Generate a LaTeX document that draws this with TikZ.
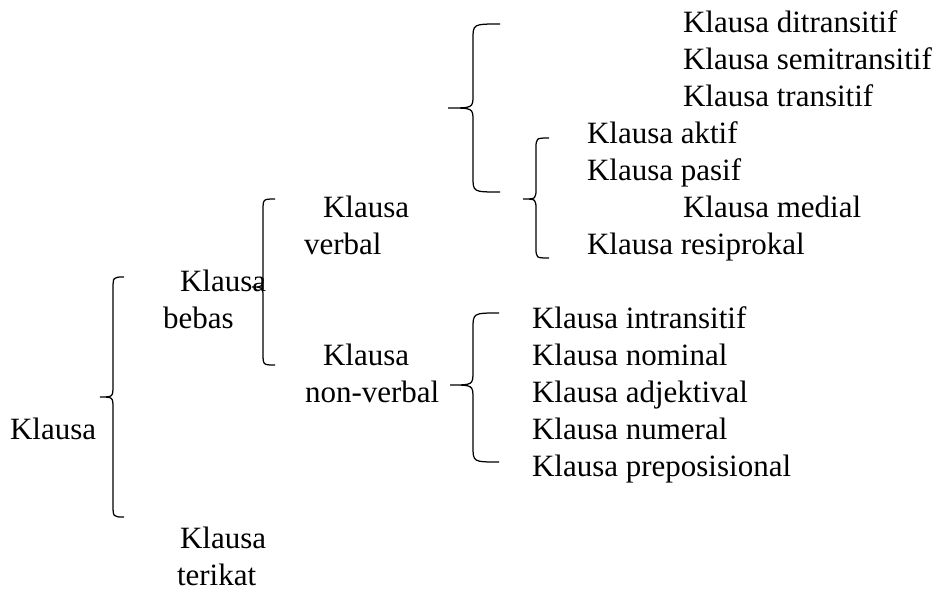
\documentclass[tikz,border=0pt]{standalone}
\usepackage{fontspec}
\setmainfont{Liberation Serif}
\newfontfamily\tnrfont{Liberation Serif}
\newcommand\mybrace[8]{%
  % #1 tip x, #2 spine x, #3 point x, #4 top y, #5 point y, #6 bottom y, #7 corner h, #8 mid h
  \draw[brc] (#1,#4) .. controls (#2,#4) .. (#2,#4+#7) -- (#2,#5-#8)
    .. controls (#2,#5) .. (#3,#5) .. controls (#2,#5) .. (#2,#5+#8)
    -- (#2,#6-#7) .. controls (#2,#6) .. (#1,#6);}
\begin{document}
\begin{tikzpicture}[x=1pt,y=-1pt,
  lbl/.style={anchor=base west,inner sep=0pt,outer sep=0pt,font=\tnrfont\fontsize{31}{37}\selectfont},
  brc/.style={line width=1.25pt,black}]
\useasboundingbox (0,0) rectangle (942,590);
% right column (top)
\node[lbl] (ditr) at (683,32) {Klausa ditransitif};
\node[lbl] (semi) at (683,69) {Klausa semitransitif};
\node[lbl] (tran) at (683,106) {Klausa transitif};
\node[lbl] (akt) at (587,143) {Klausa aktif};
\node[lbl] (pas) at (587,180) {Klausa pasif};
\node[lbl] (med) at (683,217) {Klausa medial};
\node[lbl] (res) at (587,254) {Klausa resiprokal};
% middle
\node[lbl] (kv1) at (323,217) {Klausa};
\node[lbl] (kv2) at (304,254) {verbal};
\node[lbl] (kn1) at (323,365) {Klausa};
\node[lbl] (kn2) at (305,402) {non-verbal};
% lower right list
\node[lbl] (intr) at (532,328) {Klausa intransitif};
\node[lbl] (nom) at (532,365) {Klausa nominal};
\node[lbl] (adj) at (532,402) {Klausa adjektival};
\node[lbl] (num) at (532,439) {Klausa numeral};
\node[lbl] (prep) at (532,476) {Klausa preposisional};
% left
\node[lbl] (kb1) at (180,291) {Klausa};
\node[lbl] (kb2) at (163,328) {bebas};
\node[lbl] (kl) at (10,439) {Klausa};
\node[lbl] (kt1) at (180,548) {Klausa};
\node[lbl] (kt2) at (177,585) {terikat};
% braces
\mybrace{500}{473}{448}{24}{108}{192}{15}{13}
\mybrace{549}{536}{523}{138}{199}{258}{11}{11}
\mybrace{124}{113}{100}{277}{397}{517}{13}{12}
\mybrace{275}{263}{252}{199}{287}{365}{12}{11}
\mybrace{499}{473}{450}{313}{385}{462}{16}{14}
\end{tikzpicture}
\end{document}
